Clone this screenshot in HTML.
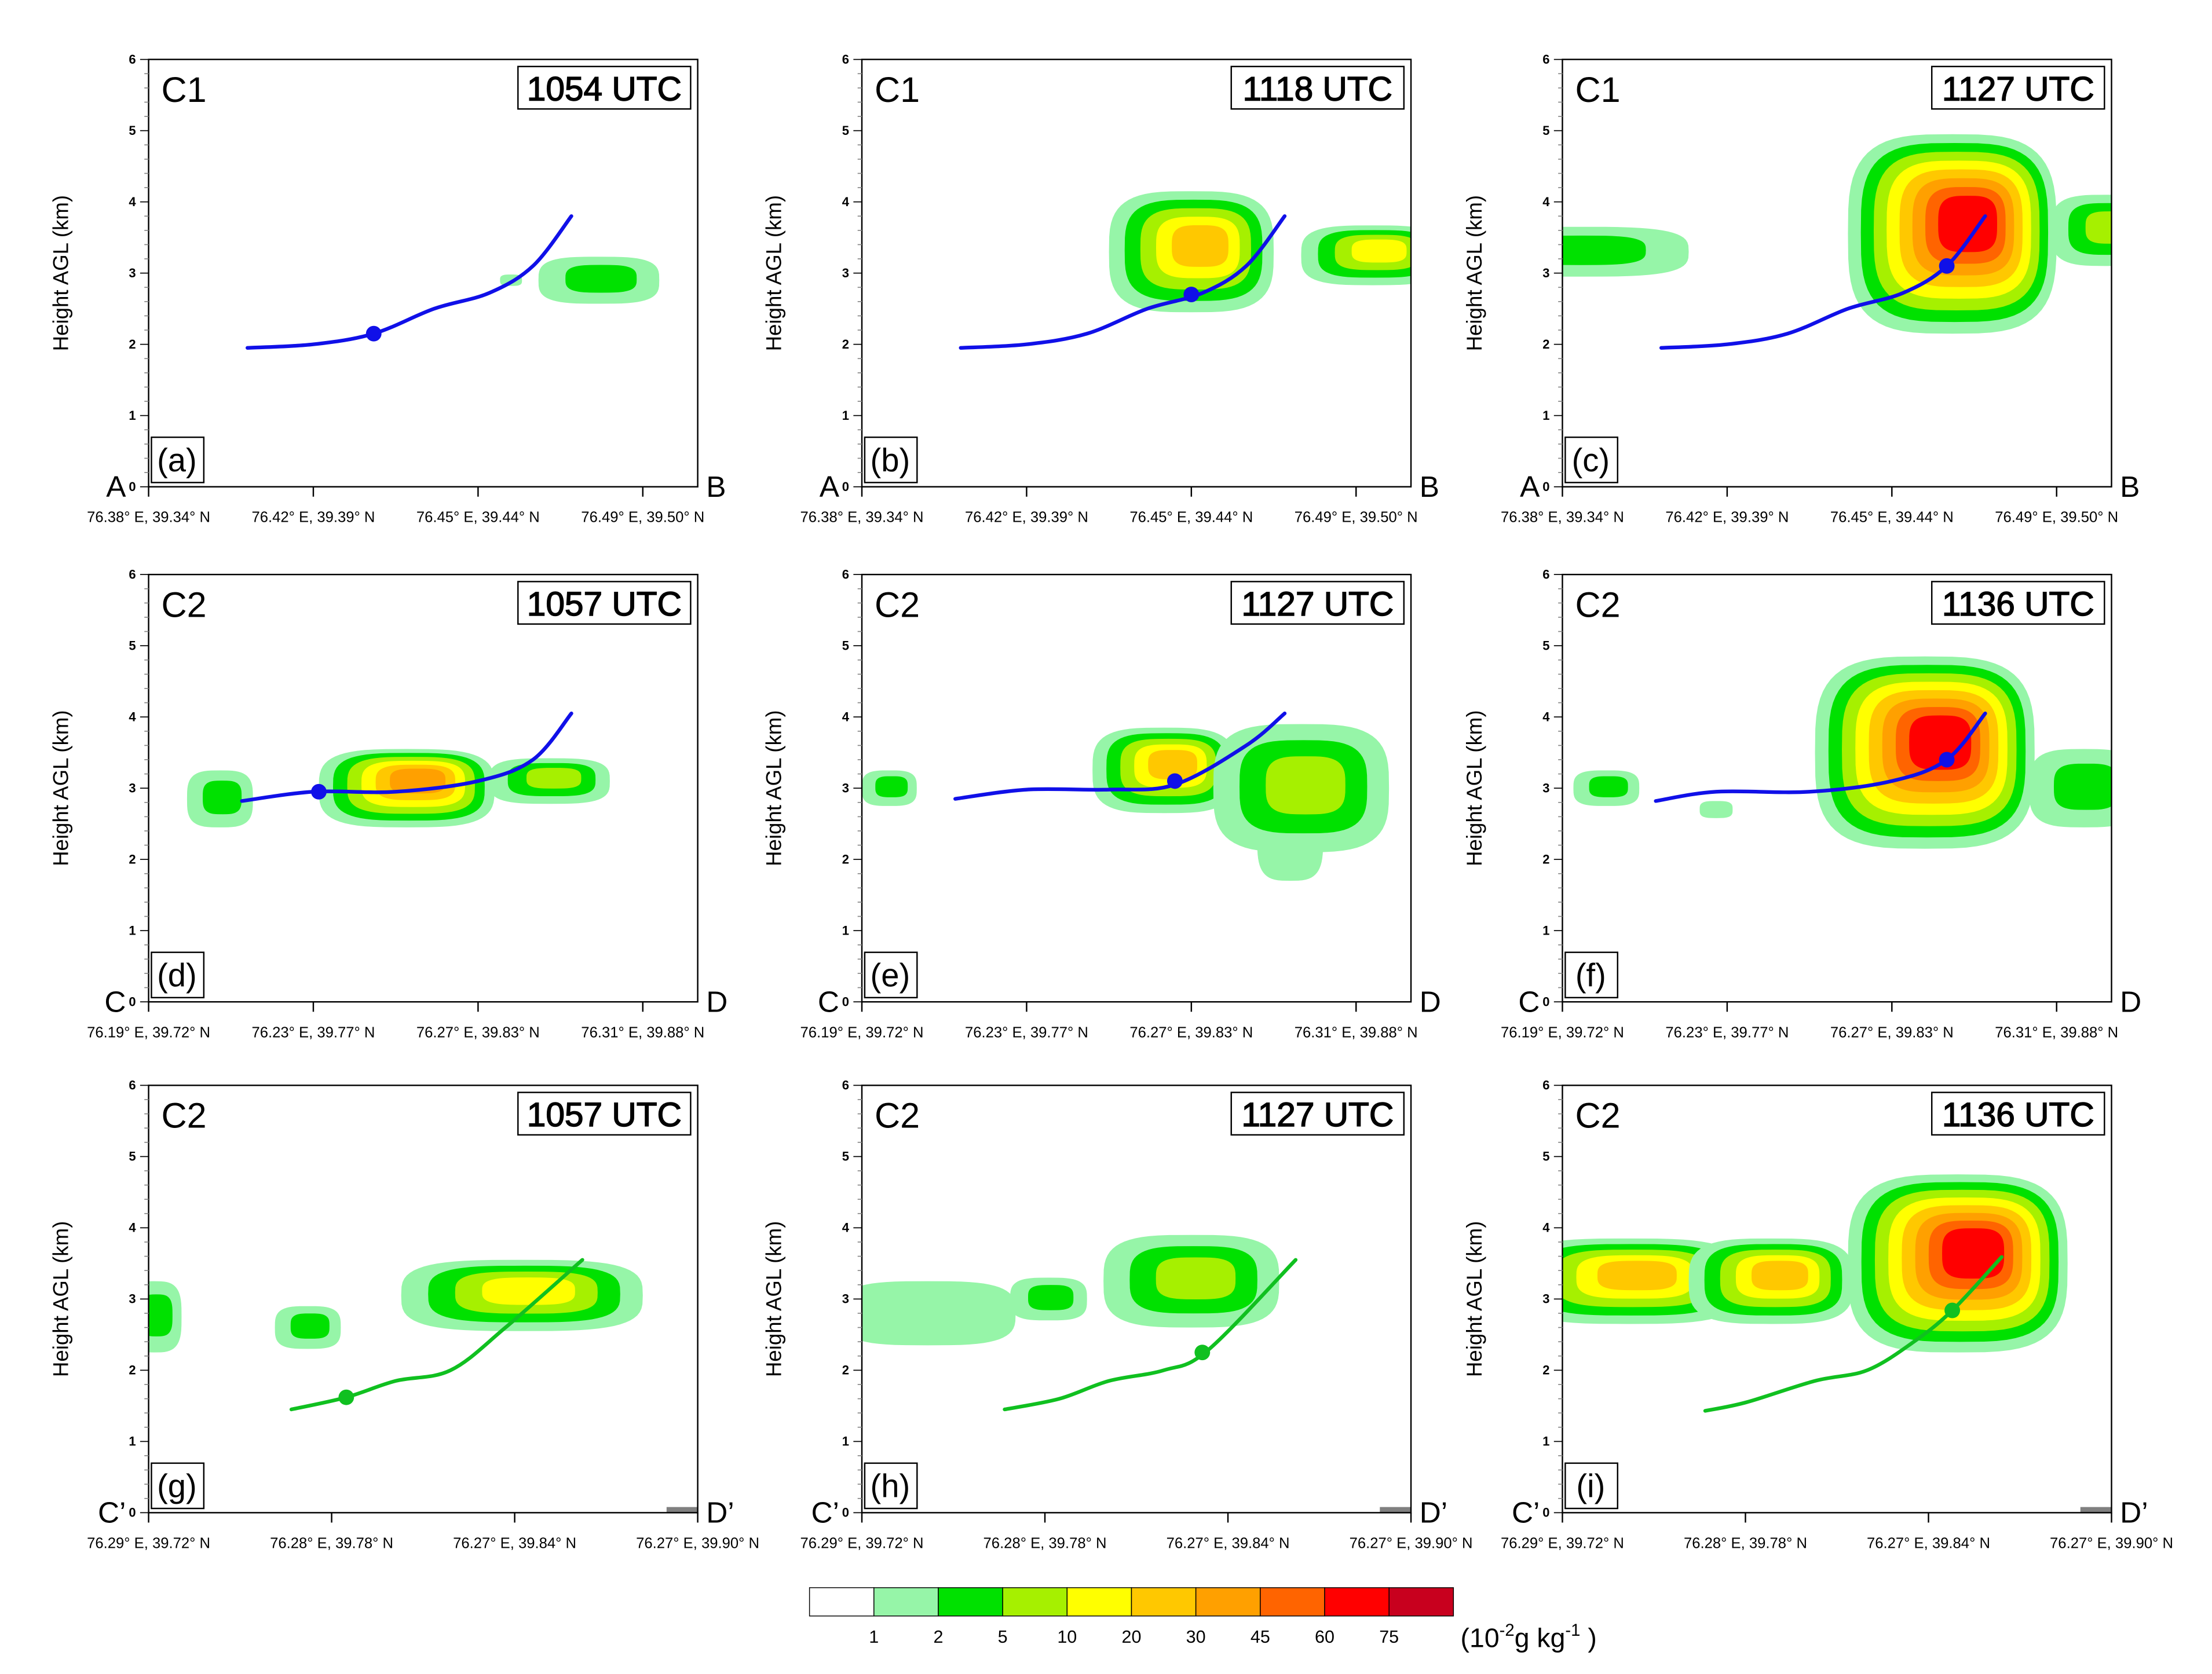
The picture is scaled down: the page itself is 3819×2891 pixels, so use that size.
<!DOCTYPE html>
<html><head><meta charset="utf-8"><style>
html,body{margin:0;padding:0;background:#fff}
svg{display:block}
text{font-family:"Liberation Sans",sans-serif}
</style></head><body>
<svg id="fig" width="3819" height="2891" viewBox="0 0 1563 1183" preserveAspectRatio="none" xmlns="http://www.w3.org/2000/svg"></svg>
<script>
// ---- data ----
const levelLabels = ["1","2","5","10","20","30","45","60","75"];
const levelColors = ["#ffffff","#96f5a8","#00e100","#a6f000","#ffff00","#ffc800","#ffa000","#ff6400","#ff0000","#c8001e"];
const panelIds = ["a","b","c","d","e","f","g","h","i"];
const panelCases = ["C1","C1","C1","C2","C2","C2","C2","C2","C2"];
const panelTimes = ["1054 UTC","1118 UTC","1127 UTC","1057 UTC","1127 UTC","1136 UTC","1057 UTC","1127 UTC","1136 UTC"];
const rowEnds = [["A","B"],["C","D"],["C\u2019","D\u2019"]];
const rowTickLabels = [
 ["76.38\u00b0 E, 39.34\u00b0 N","76.42\u00b0 E, 39.39\u00b0 N","76.45\u00b0 E, 39.44\u00b0 N","76.49\u00b0 E, 39.50\u00b0 N"],
 ["76.19\u00b0 E, 39.72\u00b0 N","76.23\u00b0 E, 39.77\u00b0 N","76.27\u00b0 E, 39.83\u00b0 N","76.31\u00b0 E, 39.88\u00b0 N"],
 ["76.29\u00b0 E, 39.72\u00b0 N","76.28\u00b0 E, 39.78\u00b0 N","76.27\u00b0 E, 39.84\u00b0 N","76.27\u00b0 E, 39.90\u00b0 N"]];
const rowTickFrac = [[0,0.3,0.6,0.9],[0,0.3,0.6,0.9],[0,1/3,2/3,1]];
const yTicks = [0,1,2,3,4,5,6];
// blobs: [x-fraction, height km, x-radius fraction, y-radius km, number of levels]
const blobs = [
 [[0.82,2.9,0.11,0.33,2],[0.66,2.9,0.02,0.08,1]],
 [[0.6,3.3,0.15,0.85,5],[0.93,3.25,0.13,0.42,4]],
 [[0.71,3.55,0.19,1.4,8],[0.03,3.3,0.2,0.35,2],[0.99,3.6,0.1,0.5,3]],
 [[0.13,2.85,0.06,0.4,2],[0.47,3.0,0.16,0.55,6],[0.73,3.1,0.11,0.32,3]],
 [[0.05,3.0,0.05,0.25,2],[0.78,2.3,0.06,0.6,1],[0.55,3.25,0.13,0.6,5],[0.8,3.0,0.16,0.9,3]],
 [[0.08,3.0,0.06,0.25,2],[0.28,2.7,0.03,0.12,1],[0.95,3.0,0.1,0.55,2],[0.66,3.5,0.2,1.35,8]],
 [[0.01,2.75,0.05,0.5,2],[0.29,2.6,0.06,0.3,2],[0.68,3.05,0.22,0.5,4]],
 [[0.12,2.8,0.16,0.45,1],[0.34,3.0,0.07,0.3,2],[0.6,3.25,0.16,0.65,3]],
 [[0.12,3.25,0.21,0.6,5],[0.38,3.25,0.15,0.6,5],[0.72,3.5,0.2,1.25,8]]];
const trajX = [
 [0.18,0.3,0.41,0.52,0.62,0.7,0.77],[0.18,0.3,0.41,0.52,0.62,0.7,0.77],[0.18,0.3,0.41,0.52,0.62,0.7,0.77],
 [0.17,0.3,0.45,0.6,0.7,0.77],[0.17,0.3,0.45,0.57,0.7,0.77],[0.17,0.28,0.45,0.6,0.7,0.77],
 [0.26,0.36,0.45,0.55,0.65,0.79],[0.26,0.36,0.45,0.55,0.63,0.79],[0.26,0.335,0.46,0.555,0.64,0.71,0.8]];
const trajY = [
 [1.95,2.0,2.15,2.5,2.72,3.1,3.8],[1.95,2.0,2.15,2.5,2.72,3.1,3.8],[1.95,2.0,2.15,2.5,2.72,3.1,3.8],
 [2.82,2.95,2.95,3.1,3.4,4.05],[2.85,2.98,2.98,3.05,3.6,4.05],[2.82,2.95,2.95,3.1,3.4,4.05],
 [1.45,1.62,1.85,2.0,2.6,3.55],[1.45,1.6,1.85,2.0,2.28,3.55],[1.43,1.55,1.85,2.0,2.4,2.84,3.59]];
const dotX = [0.41,0.6,0.7,0.31,0.57,0.7,0.36,0.62,0.71];
const dotY = [2.15,2.7,3.1,2.95,3.1,3.4,1.62,2.25,2.84];
// ---- layout ----
const NS="http://www.w3.org/2000/svg";
const svg=document.getElementById('fig');
const colX=[105,609,1104], rowY=[42,406,767], PW=388, PH=302;
function el(t,a,p){const e=document.createElementNS(NS,t);for(const k in a)e.setAttribute(k,a[k]);(p||svg).appendChild(e);return e;}
function superEllipse(cx,cy,rx,ry){let d='';for(let j=0;j<64;j++){const t=j/64*2*Math.PI,c=Math.cos(t),s=Math.sin(t);
 const x=cx+rx*Math.sign(c)*Math.pow(Math.abs(c),0.6),y=cy+ry*Math.sign(s)*Math.pow(Math.abs(s),0.6);d+=(j?'L':'M')+x.toFixed(2)+','+y.toFixed(2);}return d+'Z';}
function smooth(p){let d='M'+p[0][0]+','+p[0][1];for(let j=0;j<p.length-1;j++){const p0=p[Math.max(j-1,0)],p1=p[j],p2=p[j+1],p3=p[Math.min(j+2,p.length-1)];
 d+='C'+(p1[0]+(p2[0]-p0[0])/6)+','+(p1[1]+(p2[1]-p0[1])/6)+' '+(p2[0]-(p3[0]-p1[0])/6)+','+(p2[1]-(p3[1]-p1[1])/6)+' '+p2[0]+','+p2[1];}return d;}
panelIds.forEach((id,i)=>{
 const r=Math.floor(i/3), c=i%3, x0=colX[c], y0=rowY[r];
 const sx=f=>x0+f*PW, sy=km=>y0+PH-km/6*PH;
 const g=el('g',{});  
 const cp=el('clipPath',{id:'cp'+i},g); el('rect',{x:x0,y:y0,width:PW,height:PH},cp);
 const cg=el('g',{'clip-path':'url(#cp'+i+')'},g);
 blobs[i].forEach((b,bi)=>{
  for(let k=1;k<=b[4];k++){
   const s=1-(k-1)*0.82/b[4];
   const e=el('path',{d:superEllipse(sx(b[0]+(k-1)*0.004),sy(b[1]+(k-1)*0.02),b[2]*PW*s,b[3]/6*PH*s),fill:levelColors[k]},cg);
   
   
  }
 });
 const lc = r===2 ? "#10c020" : "#1010e8";
 const pts=trajX[i].map((x,j)=>[sx(x),sy(trajY[i][j])]);
 const pl=el('path',{d:smooth(pts),fill:'none',stroke:lc,'stroke-width':2.6,'stroke-linecap':'round'},cg);
 
 
 const d=el('circle',{cx:sx(dotX[i]),cy:sy(dotY[i]),r:5.5,fill:lc},cg);
 
 
 if(r===2){el('rect',{x:x0+PW-22,y:y0+PH-4,width:22,height:4,fill:'#808080'},g);}
 const fr=el('rect',{x:x0,y:y0,width:PW,height:PH,fill:'none',stroke:'#000','stroke-width':1},g);
 
 
 for(let m=0;m<=30;m++){const y=sy(m*0.2);el('line',{x1:x0-(m%5?3:6),x2:x0,y1:y,y2:y,stroke:m%5?'#888':'#000','stroke-width':0.7},g);}
 yTicks.forEach(t=>{const tx=el('text',{x:x0-9,y:sy(t)+3,'font-size':9,'font-weight':'bold','text-anchor':'end'},g);tx.textContent=t;
  });
 const yt=el('text',{x:x0-57,y:y0+PH/2,'font-size':15,'text-anchor':'middle',transform:'rotate(-90 '+(x0-57)+' '+(y0+PH/2)+')'},g);
 yt.textContent='Height AGL (km)';
 
 rowTickFrac[r].forEach((f,j)=>{
  el('line',{x1:sx(f),x2:sx(f),y1:y0+PH,y2:y0+PH+7,stroke:'#000','stroke-width':1},g);
  const tx=el('text',{x:sx(f),y:y0+PH+25,'font-size':10.5,'text-anchor':'middle'},g);tx.textContent=rowTickLabels[r][j];
  
 });
 const a=el('text',{x:x0-16,y:y0+PH+7,'font-size':21,'text-anchor':'end'},g);a.textContent=rowEnds[r][0];
 
 const b=el('text',{x:x0+PW+6,y:y0+PH+7,'font-size':21},g);b.textContent=rowEnds[r][1];
 
 const cs=el('text',{x:x0+9,y:y0+30,'font-size':25},g);cs.textContent=panelCases[i];
 
 el('rect',{x:x0+PW-127,y:y0+5,width:122,height:30,fill:'#fff',stroke:'#000','stroke-width':1},g);
 const ut=el('text',{x:x0+PW-66,y:y0+29,'font-size':24,'text-anchor':'middle',stroke:'#000','stroke-width':0.6},g);ut.textContent=panelTimes[i];
 
 el('rect',{x:x0+2,y:y0+PH-35,width:37,height:32,fill:'#fff',stroke:'#000','stroke-width':1},g);
 const pl2=el('text',{x:x0+20,y:y0+PH-11,'font-size':23,'text-anchor':'middle'},g);pl2.textContent='('+id+')';
 
});
// colorbar
const cb=el('g',{});
const cbx=572, cbw=45.5, cby=1122, cbh=20;
levelColors.forEach((col,k)=>{el('rect',{x:cbx+k*cbw,y:cby,width:cbw,height:cbh,fill:col,stroke:'#000','stroke-width':0.6},cb);});
levelLabels.forEach((l,k)=>{const t=el('text',{x:cbx+(k+1)*cbw,y:cby+39,'font-size':12.5,'text-anchor':'middle'},cb);t.textContent=l;
 });
const u=el('text',{x:1032,y:1164,'font-size':19},cb);
u.innerHTML='(10<tspan dy="-8" font-size="12">-2</tspan><tspan dy="8">g kg</tspan><tspan dy="-8" font-size="12">-1</tspan><tspan dy="8"> )</tspan>';

</script>
</body></html>
